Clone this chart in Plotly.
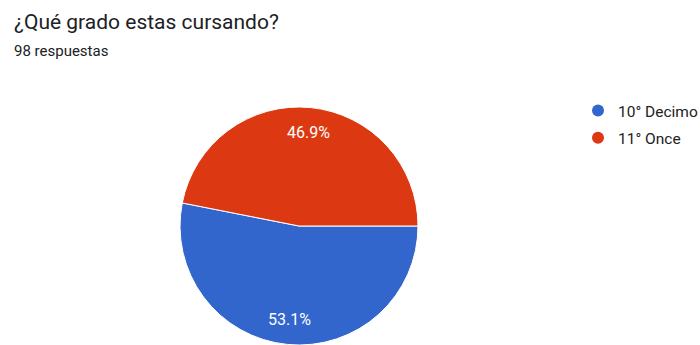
import math
import plotly.graph_objects as go

categories = ["10° Decimo", "11° Once"]
values = [53.1, 46.9]
colors = ["#3366cc", "#dc3912"]
title_text = "¿Qué grado estas cursando?"
subtitle_text = "98 respuestas"

W, H = 700, 345
cx, cy, R = 299, 226, 119  # pie centre / radius in px (layout)
label_frac = 0.79

fig = go.Figure()
fig.add_trace(go.Pie(
    labels=categories, values=values, sort=False, direction="clockwise", rotation=90,
    marker=dict(colors=colors, line=dict(color="white", width=1)),
    textinfo="none",
    domain=dict(x=[(cx - R) / W, (cx + R) / W], y=[(H - cy - R) / H, (H - cy + R) / H]),
    showlegend=False, hoverinfo="label+percent",
))
for i, (c, col) in enumerate(zip(categories, colors)):
    fig.add_trace(go.Scatter(x=[None], y=[None], mode="markers", name=c,
                             legendgroup=f"g{i}",
                             marker=dict(symbol="circle", size=15, color=col)))

# percentage labels placed along each slice's mid angle
annotations = []
total = sum(values)
start = 0.0  # degrees clockwise from 3 o'clock
for v in values:
    span = v / total * 360
    mid = math.radians(start + span / 2)
    px = cx + label_frac * R * math.cos(mid)
    py = cy + label_frac * R * math.sin(mid)
    annotations.append(dict(text=f"{v / total * 100:.1f}%", x=px / W, y=1 - py / H,
                            xref="paper", yref="paper", xanchor="center", yanchor="middle",
                            showarrow=False,
                            font=dict(size=16, color="white")))
    start += span

annotations += [
    dict(text=title_text, x=12 / W, y=1 - 8 / H, xref="paper", yref="paper",
         xanchor="left", yanchor="top", showarrow=False,
         font=dict(size=21, color="#202124")),
    dict(text=subtitle_text, x=12 / W, y=1 - 40 / H, xref="paper", yref="paper",
         xanchor="left", yanchor="top", showarrow=False,
         font=dict(size=15, color="#202124")),
]

fig.update_layout(
    width=W, height=H, margin=dict(l=0, r=0, t=0, b=0, autoexpand=False),
    paper_bgcolor="white", plot_bgcolor="white",
    xaxis=dict(visible=False), yaxis=dict(visible=False),
    font=dict(family="Roboto, Arial, sans-serif", color="#202124"),
    legend=dict(x=578 / W, y=1 - 94 / H, xanchor="left", yanchor="top",
                font=dict(size=15.5, color="#222222"), itemsizing="constant",
                tracegroupgap=4, bgcolor="rgba(0,0,0,0)"),
    annotations=annotations,
)
fig.write_html("out.html")
